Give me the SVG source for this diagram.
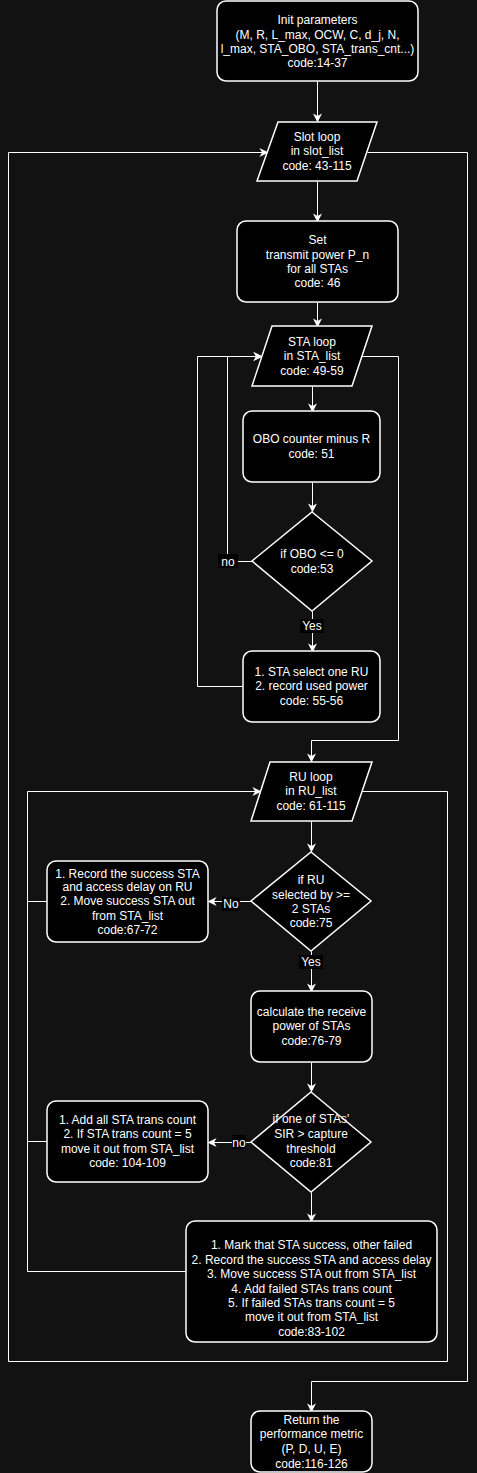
<svg xmlns="http://www.w3.org/2000/svg" width="477" height="1473" viewBox="0 0 477 1473">
<defs>
<style>
.bg{fill:#121212}
.box{fill:#000;stroke:#fff;stroke-width:1.5}
.ln{fill:none;stroke:#fff;stroke-width:1}
.t{font-family:"Liberation Sans",Arial,sans-serif;font-size:12px;fill:#fff;text-anchor:middle}
.lb{fill:#000}
</style>
<marker id="ar" viewBox="0 0 10 10" refX="9" refY="5" markerWidth="9" markerHeight="9" markerUnits="userSpaceOnUse" orient="auto">
<path d="M0,0 L10,5 L0,10 L3,5 z" fill="#fff"/>
</marker>
</defs>
<rect class="bg" x="0" y="0" width="477" height="1473"/>
<g id="connectors">
<g transform="translate(0.5,0.5)">
<path class="ln" d="M317,81 V121" marker-end="url(#ar)"/>
<path class="ln" d="M317,181 V221" marker-end="url(#ar)"/>
<path class="ln" d="M317,302 V326" marker-end="url(#ar)"/>
<path class="ln" d="M312,386 V411" marker-end="url(#ar)"/>
<path class="ln" d="M312,482 V511" marker-end="url(#ar)"/>
<path class="ln" d="M312,611 V651" marker-end="url(#ar)"/>
<path class="ln" d="M252,561 H227 V356 H261" marker-end="url(#ar)"/>
<path class="ln" d="M243,686 H197 V356 H261" marker-end="url(#ar)"/>
<path class="ln" d="M362,356 H398 V740 H311 V761" marker-end="url(#ar)"/>
<path class="ln" d="M311,821 V851" marker-end="url(#ar)"/>
<path class="ln" d="M251,901 H208" marker-end="url(#ar)"/>
<path class="ln" d="M47,901 H27"/>
<path class="ln" d="M311,951 V991" marker-end="url(#ar)"/>
<path class="ln" d="M311,1062 V1091" marker-end="url(#ar)"/>
<path class="ln" d="M251,1142 H208" marker-end="url(#ar)"/>
<path class="ln" d="M47,1141 H27"/>
<path class="ln" d="M311,1192 V1221" marker-end="url(#ar)"/>
<path class="ln" d="M186,1271 H27 V791 H260" marker-end="url(#ar)"/>
<path class="ln" d="M362,791 H447 V1361 H8 V152 H267" marker-end="url(#ar)"/>
<path class="ln" d="M367,152 H467 V1381 H311 V1411" marker-end="url(#ar)"/>
</g>
<rect class="lb" x="218" y="554" width="20" height="14"/>
<text class="t" x="228" y="565.5">no</text>
<rect class="lb" x="300" y="619" width="24" height="14"/>
<text class="t" x="312" y="630">Yes</text>
<rect class="lb" x="222" y="897" width="18" height="14"/>
<text class="t" x="231" y="908.3">No</text>
<rect class="lb" x="299" y="955" width="24" height="14"/>
<text class="t" x="311" y="966">Yes</text>
<rect class="lb" x="232" y="1135" width="14" height="14"/>
<text class="t" x="239" y="1146.5">no</text>
</g>
<g id="init">
<rect class="box" x="217" y="1" width="201" height="80" rx="9"/>
<text class="t"><tspan x="317.5" y="24.3">Init parameters</tspan><tspan x="317.5" y="38.5">(M, R, L_max, OCW, C, d_j, N,</tspan><tspan x="317.5" y="52.5">l_max, STA_OBO, STA_trans_cnt...)</tspan><tspan x="317.5" y="66.5">code:14-37</tspan></text>
</g>
<g id="slot_loop">
<path class="box" d="M278,122 H377 L357,181 H257 Z"/>
<text class="t"><tspan x="317" y="141">Slot loop</tspan><tspan x="317" y="155.3">in slot_list</tspan><tspan x="317" y="170">code: 43-115</tspan></text>
</g>
<g id="set_power">
<rect class="box" x="237" y="221" width="161" height="81" rx="9"/>
<text class="t"><tspan x="317.5" y="244.3">Set</tspan><tspan x="317.5" y="258.6">transmit power P_n</tspan><tspan x="317.5" y="273.3">for all STAs</tspan><tspan x="317.5" y="287">code: 46</tspan></text>
</g>
<g id="sta_loop">
<path class="box" d="M272,326 H372 L352,386 H252 Z"/>
<text class="t"><tspan x="312" y="346">STA loop</tspan><tspan x="312" y="360.3">in STA_list</tspan><tspan x="312" y="375">code: 49-59</tspan></text>
</g>
<g id="obo_minus">
<rect class="box" x="243" y="411" width="137" height="71" rx="9"/>
<text class="t"><tspan x="311.5" y="443.3">OBO counter minus R</tspan><tspan x="311.5" y="458.3">code: 51</tspan></text>
</g>
<g id="if_obo">
<path class="box" d="M312,512 L372,561 L312,611 L252,561 Z"/>
<text class="t"><tspan x="312" y="557.6">if OBO &lt;= 0</tspan><tspan x="312" y="573">code:53</tspan></text>
</g>
<g id="sta_select">
<rect class="box" x="243" y="651" width="137" height="71" rx="9"/>
<text class="t"><tspan x="311.5" y="676.3">1. STA select one RU</tspan><tspan x="311.5" y="690.3">2. record used power</tspan><tspan x="311.5" y="705">code: 55-56</tspan></text>
</g>
<g id="ru_loop">
<path class="box" d="M270,762 H372 L352,821 H251 Z"/>
<text class="t"><tspan x="311" y="781">RU loop</tspan><tspan x="311" y="795.3">in RU_list</tspan><tspan x="311" y="810">code: 61-115</tspan></text>
</g>
<g id="if_ru">
<path class="box" d="M311,852 L371,901 L311,951 L251,901 Z"/>
<text class="t"><tspan x="311" y="884.3">if RU</tspan><tspan x="311" y="898.6">selected by &gt;=</tspan><tspan x="311" y="913.3">2 STAs</tspan><tspan x="311" y="927">code:75</tspan></text>
</g>
<g id="record_success">
<rect class="box" x="47" y="861" width="161" height="81" rx="9"/>
<text class="t"><tspan x="127.5" y="877.6">1. Record the success STA</tspan><tspan x="127.5" y="891.3">and access delay on RU</tspan><tspan x="127.5" y="905.3">2. Move success STA out</tspan><tspan x="127.5" y="920">from STA_list</tspan><tspan x="127.5" y="934.3">code:67-72</tspan></text>
</g>
<g id="calc_power">
<rect class="box" x="251" y="991" width="121" height="71" rx="9"/>
<text class="t"><tspan x="311.5" y="1016.3">calculate the receive</tspan><tspan x="311.5" y="1030.3">power of STAs</tspan><tspan x="311.5" y="1045">code:76-79</tspan></text>
</g>
<g id="if_sir">
<path class="box" d="M311,1092 L371,1142 L311,1192 L251,1142 Z"/>
<text class="t"><tspan x="311" y="1123.3">if one of STAs'</tspan><tspan x="311" y="1138.3">SIR &gt; capture</tspan><tspan x="311" y="1153">threshold</tspan><tspan x="311" y="1167.3">code:81</tspan></text>
</g>
<g id="add_count">
<rect class="box" x="47" y="1101" width="161" height="81" rx="9"/>
<text class="t"><tspan x="127.5" y="1124.3">1. Add all STA trans count</tspan><tspan x="127.5" y="1138.3">2. If STA trans count = 5</tspan><tspan x="127.5" y="1153">move it out from STA_list</tspan><tspan x="127.5" y="1167.3">code: 104-109</tspan></text>
</g>
<g id="mark_success">
<rect class="box" x="186" y="1221" width="251" height="121" rx="9"/>
<text class="t"><tspan x="311.5" y="1249">1. Mark that STA success, other failed</tspan><tspan x="311.5" y="1264.3">2. Record the success STA and access delay</tspan><tspan x="311.5" y="1278.3">3. Move success STA out from STA_list</tspan><tspan x="311.5" y="1293.3">4. Add failed STAs trans count</tspan><tspan x="311.5" y="1307.3">5. If failed STAs trans count = 5</tspan><tspan x="311.5" y="1321">move it out from STA_list</tspan><tspan x="311.5" y="1336">code:83-102</tspan></text>
</g>
<g id="return_metric">
<rect class="box" x="251" y="1411" width="121" height="61" rx="9"/>
<text class="t"><tspan x="311.5" y="1424.3">Return the</tspan><tspan x="311.5" y="1438.3">performance metric</tspan><tspan x="311.5" y="1452.6">(P, D, U, E)</tspan><tspan x="311.5" y="1467.6">code:116-126</tspan></text>
</g>
</svg>
